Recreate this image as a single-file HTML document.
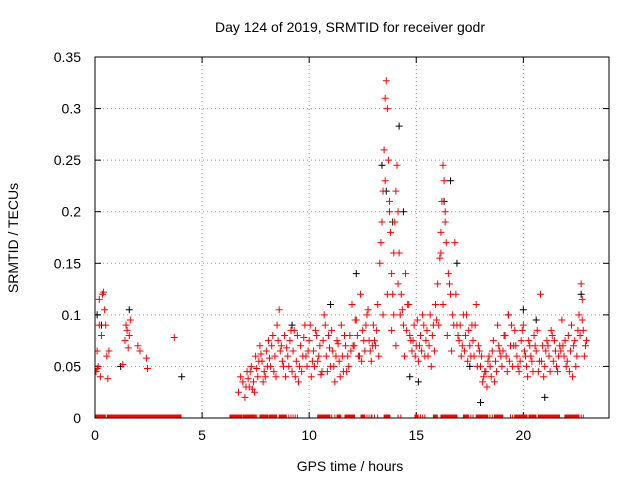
<!DOCTYPE html>
<html><head><meta charset="utf-8"><style>
body{margin:0;background:#fff;}
svg{display:block;font-family:"Liberation Sans",sans-serif;}
</style></head><body>
<svg id="chart" width="640" height="480">
<defs><clipPath id="plotclip"><rect x="95" y="57" width="514" height="361"/></clipPath></defs>
<text x="350" y="32" font-size="14" text-anchor="middle">Day 124 of 2019, SRMTID for receiver godr</text>
<text x="350" y="471" font-size="14" text-anchor="middle">GPS time / hours</text>
<text x="18" y="238" font-size="14" text-anchor="middle" transform="rotate(-90 18 238)">SRMTID / TECUs</text>
<g id="grid"></g><g id="axes"></g><g id="marks" clip-path="url(#plotclip)"></g>
<rect x="95" y="57" width="514" height="361" fill="none" stroke="#000"/>
</svg>
<script>
const xTicks=[0,5,10,15,20];
const yTicks=[0,0.05,0.1,0.15,0.2,0.25,0.3,0.35];
const yTickLabels=["0","0.05","0.1","0.15","0.2","0.25","0.3","0.35"];
const redT=[0.05,0.1,0.15,0.2,0.25,0.3,0.35,0.4,0.45,0.5,0.55,0.6,0.65,0.1,0.2,1.3,1.4,1.45,1.5,1.55,1.6,1.65,2.0,2.1,2.4,2.45,3.7,6.7,6.8,6.9,7.0,7.1,7.2,7.3,7.4,7.5,7.6,7.7,7.8,7.9,8.0,8.1,8.2,8.3,8.4,8.5,8.6,8.7,8.8,8.9,9.0,9.1,9.2,9.3,9.4,9.5,9.6,9.7,9.8,9.9,10.0,10.1,10.2,10.3,10.4,10.5,10.6,10.7,10.8,10.9,11.0,11.1,11.2,11.3,11.4,11.5,11.6,11.7,11.8,11.9,12.0,12.1,12.2,12.3,12.4,12.5,12.6,12.7,12.8,12.9,13.0,13.1,13.2,13.3,13.4,13.45,13.5,13.55,13.6,13.65,13.7,13.75,13.8,13.85,13.9,13.95,14.0,14.05,14.1,14.15,14.2,14.3,14.4,14.5,14.6,14.7,14.8,14.9,15.0,15.1,15.2,15.3,15.4,15.5,15.6,15.7,15.8,15.9,16.0,16.1,16.15,16.2,16.25,16.3,16.35,16.4,16.5,16.6,16.7,16.8,16.9,17.0,17.1,17.2,17.3,17.4,17.5,17.6,17.7,17.8,17.9,18.0,18.1,18.2,18.3,18.4,18.5,18.6,18.7,18.8,18.9,19.0,19.1,19.2,19.3,19.4,19.5,19.6,19.7,19.8,19.9,20.0,20.1,20.2,20.3,20.4,20.5,20.6,20.7,20.8,20.9,21.0,21.1,21.2,21.3,21.4,21.5,21.6,21.7,21.8,21.9,22.0,22.1,22.2,22.3,22.4,22.5,22.6,22.7,22.75,22.8,22.9];
const redV=[.045,.065,.05,.115,.04,.08,.12,.122,.105,.09,.06,.038,.065,.048,.09,.052,.075,.09,.085,.068,.08,.095,.07,.065,.058,.048,.078,.025,.04,.035,.02,.045,.03,.05,.035,.06,.04,.07,.055,.045,.065,.075,.05,.08,.06,.09,.105,.07,.05,.04,.06,.075,.045,.085,.055,.035,.07,.06,.09,.05,.075,.04,.065,.085,.055,.07,.045,.1,.06,.08,.05,.065,.035,.075,.055,.09,.045,.07,.06,.08,.11,.07,.095,.06,.12,.085,.065,.1,.075,.055,.09,.07,.11,.15,.19,.22,.26,.31,.327,.3,.25,.21,.18,.14,.12,.1,.19,.22,.245,.2,.16,.12,.09,.14,.11,.08,.065,.09,.07,.055,.08,.1,.06,.085,.07,.05,.09,.11,.13,.155,.18,.21,.245,.23,.2,.17,.14,.12,.1,.17,.09,.075,.06,.1,.08,.055,.07,.09,.06,.11,.07,.05,.035,.045,.03,.06,.04,.075,.055,.09,.065,.05,.08,.06,.1,.07,.05,.085,.06,.045,.075,.09,.06,.04,.07,.055,.08,.065,.045,.12,.07,.05,.075,.06,.085,.055,.065,.045,.07,.095,.06,.05,.08,.065,.04,.075,.06,.1,.13,.115,.085,.07];
const red2T=[7.05,7.25,7.45,7.65,7.85,8.05,8.25,8.45,8.65,8.85,9.05,9.25,9.45,9.65,9.85,10.05,10.25,10.45,10.65,10.85,11.05,11.25,11.45,11.65,11.85,12.05,12.25,12.45,12.65,12.85,13.05,13.25,13.45,13.65,13.85,14.05,14.25,14.45,14.65,14.85,15.05,15.25,15.45,15.65,15.85,16.05,16.25,16.45,16.65,16.85,17.05,17.25,17.45,17.65,17.85,18.05,18.25,18.45,18.65,18.85,19.05,19.25,19.45,19.65,19.85,20.05,20.25,20.45,20.65,20.85,21.05,21.25,21.45,21.65,21.85,22.05,22.25,22.45,22.65,22.85];
const red2V=[.03,.045,.025,.055,.035,.05,.07,.04,.065,.08,.05,.065,.08,.045,.06,.09,.05,.06,.075,.045,.085,.06,.04,.08,.05,.07,.08,.055,.09,.065,.075,.06,.1,.12,.085,.07,.1,.06,.11,.075,.095,.065,.075,.1,.065,.09,.11,.08,.065,.12,.09,.065,.085,.075,.05,.06,.045,.05,.035,.07,.065,.045,.09,.07,.055,.065,.075,.045,.085,.055,.065,.045,.075,.06,.07,.055,.09,.05,.08,.06];
const red3T=[7.15,7.35,7.55,7.75,7.95,8.15,8.35,8.55,8.75,8.95,9.15,9.35,9.55,9.75,9.95,10.15,10.35,10.55,10.75,10.95,11.15,11.35,11.55,11.75,11.95,12.15,12.35,12.55,12.75,12.95,13.15,13.35,13.55,13.75,13.95,14.15,14.35,14.55,14.75,14.95,15.15,15.35,15.55,15.75,15.95,16.15,16.35,16.55,16.75,16.95,17.15,17.35,17.55,17.75,17.95,18.15,18.35,18.55,18.75,18.95,19.15,19.35,19.55,19.75,19.95,20.15,20.35,20.55,20.75,20.95,21.15,21.35,21.55,21.75,21.95,22.15,22.35,22.55,22.75,22.95];
const red3V=[.038,.028,.048,.062,.04,.058,.045,.075,.055,.068,.085,.04,.05,.078,.065,.055,.08,.042,.09,.068,.05,.072,.06,.045,.065,.095,.06,.075,.105,.07,.085,.17,.23,.2,.16,.13,.105,.085,.075,.06,.07,.09,.06,.08,.095,.16,.19,.13,.09,.08,.07,.1,.06,.09,.065,.04,.055,.065,.045,.06,.08,.055,.07,.05,.085,.05,.06,.07,.055,.04,.07,.08,.05,.065,.075,.045,.07,.085,.095,.075];
const blackT=[0.1,0.3,1.2,1.6,4.05,12.2,13.4,13.6,13.9,14.2,14.4,14.7,15.1,16.3,16.6,16.9,17.5,19.3,20.0,20.6,21.0,22.7,11.0,9.2,18.0];
const blackV=[.1,.09,.05,.105,.04,.14,.245,.22,.19,.283,.2,.04,.035,.21,.23,.15,.05,.1,.105,.095,.02,.12,.11,.09,.015];
const zeroRanges=[[0,0.5],[0.57,4.02],[6.3,6.85],[6.9,7.05],[7.1,7.5],[7.55,7.56],[7.7,8.06],[8.12,8.5],[8.6,8.95],[9.05,9.06],[9.15,9.16],[9.25,9.26],[9.35,9.36],[9.45,9.46],[10.4,10.97],[11.05,11.06],[11.2,11.21],[11.3,11.5],[11.67,12.14],[12.42,12.6],[12.7,12.71],[12.8,12.81],[12.9,12.95],[13.05,13.06],[13.2,13.21],[13.5,13.77],[14.15,14.16],[14.28,14.29],[14.94,15.1],[15.2,15.21],[15.3,15.31],[15.4,15.41],[15.8,16.0],[16.15,16.9],[17.2,17.46],[17.55,17.56],[17.65,17.66],[17.8,18.35],[18.44,18.45],[18.55,18.56],[18.65,19.05],[19.4,19.41],[19.5,19.51],[19.6,20.17],[20.26,20.6],[20.7,21.7],[21.94,22.6],[22.7,22.71],[22.8,22.81]];
const X0=95,X1=609,Y0=418,Y1=57,XMAX=24,YMAX=0.35;
const sx=t=>X0+t/XMAX*(X1-X0), sy=v=>Y0-v/YMAX*(Y0-Y1);
const NS="http://www.w3.org/2000/svg";
const grid=document.getElementById('grid'),axes=document.getElementById('axes'),marks=document.getElementById('marks');
function mk(tag,attrs,parent){const e=document.createElementNS(NS,tag);for(const k in attrs)e.setAttribute(k,attrs[k]);parent.appendChild(e);return e;}
xTicks.forEach(t=>{const x=sx(t);
 if(t>0){const g=mk('line',{x1:x,x2:x,y1:Y0,y2:Y1,stroke:'#999','stroke-dasharray':'1,3'},grid);
 
 }
 mk('line',{x1:x,x2:x,y1:Y0,y2:Y0-6,stroke:'#000'},axes);mk('line',{x1:x,x2:x,y1:Y1,y2:Y1+6,stroke:'#000'},axes);
 const l=mk('text',{x:x,y:Y0+22,'font-size':14,'text-anchor':'middle'},axes);l.textContent=t;
 
 });
yTicks.forEach((v,i)=>{const y=sy(v);
 if(i>0&&i<yTicks.length-1){const g=mk('line',{x1:X0,x2:X1,y1:y,y2:y,stroke:'#999','stroke-dasharray':'1,3'},grid);
 
 }
 mk('line',{x1:X0,x2:X0+6,y1:y,y2:y,stroke:'#000'},axes);mk('line',{x1:X1,x2:X1-6,y1:y,y2:y,stroke:'#000'},axes);
 const l=mk('text',{x:X0-14,y:y+5,'font-size':14,'text-anchor':'end'},axes);l.textContent=yTickLabels[i];
 
 });
function plus(t,v,c,name){const x=sx(t),y=sy(v);
 const p=mk('path',{d:`M${x-3.5},${y}h7M${x},${y-3.5}v7`,stroke:c,'stroke-width':1},marks);
 
 }
zeroRanges.forEach(r=>{for(let t=r[0];t<=r[1]+1e-9;t+=0.03)plus(t,0,'#f00','zero-point');});
blackT.forEach((t,i)=>plus(t,blackV[i],'#000','black-point'));
redT.forEach((t,i)=>plus(t,redV[i],'#f00','red-point'));
red2T.forEach((t,i)=>plus(t,red2V[i],'#f00','red-point'));
red3T.forEach((t,i)=>plus(t,red3V[i],'#f00','red-point'));
</script>
</body></html>
